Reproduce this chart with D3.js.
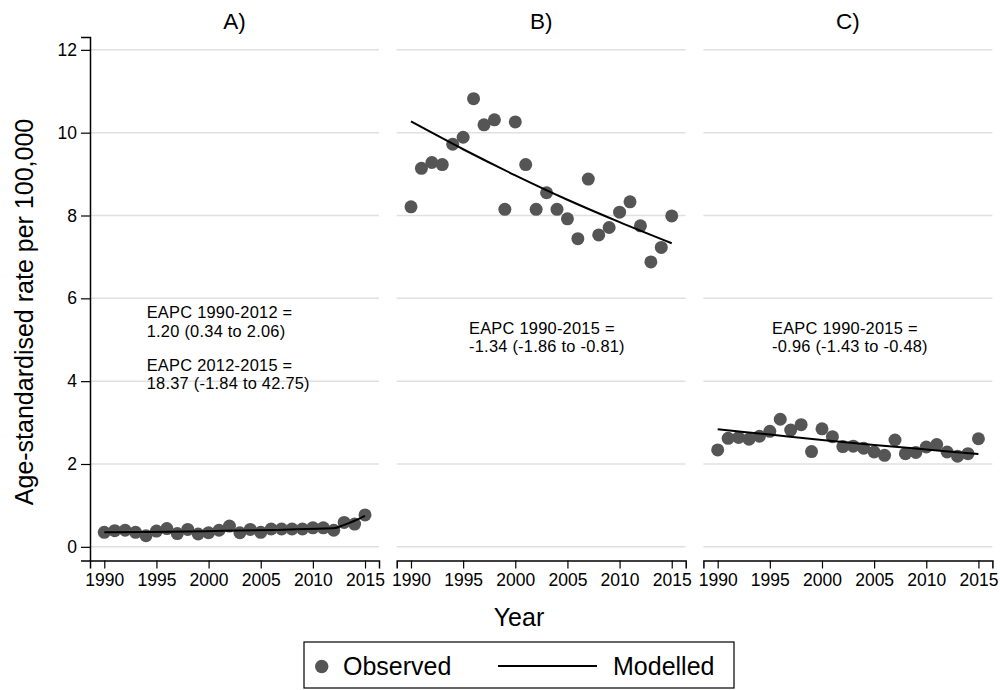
<!DOCTYPE html>
<html>
<head>
<meta charset="utf-8">
<script src="https://cdn.jsdelivr.net/npm/d3@7"></script>
<style>
  body { margin: 0; background: #fff; }
  text { font-family: "Liberation Sans", Arial, sans-serif; fill: #000; }
</style>
</head>
<body>
<div id="chart"></div>
<script>
// data
const years = [1990, 1991, 1992, 1993, 1994, 1995, 1996, 1997, 1998, 1999, 2000, 2001, 2002,
               2003, 2004, 2005, 2006, 2007, 2008, 2009, 2010, 2011, 2012, 2013, 2014, 2015];
const observedA = [0.35, 0.39, 0.40, 0.35, 0.27, 0.38, 0.44, 0.32, 0.42, 0.31, 0.34, 0.40, 0.50,
                   0.34, 0.42, 0.35, 0.43, 0.43, 0.43, 0.43, 0.46, 0.46, 0.40, 0.59, 0.55, 0.77];
const observedB = [8.21, 9.14, 9.28, 9.23, 9.72, 9.89, 10.82, 10.19, 10.31, 8.15, 10.26, 9.23, 8.15,
                   8.55, 8.15, 7.92, 7.44, 8.88, 7.53, 7.71, 8.08, 8.33, 7.75, 6.88, 7.23, 7.99];
const observedC = [2.34, 2.62, 2.64, 2.60, 2.67, 2.79, 3.08, 2.82, 2.95, 2.30, 2.85, 2.66, 2.42,
                   2.43, 2.38, 2.29, 2.21, 2.58, 2.25, 2.28, 2.41, 2.47, 2.29, 2.19, 2.25, 2.61];

const modelYearsA = [1990, 2012, 2013, 2014, 2015];
const modelledA = [0.35, 0.45, 0.53, 0.63, 0.75];
const modelYears = [1990, 1995, 2000, 2005, 2010, 2015];
const modelledB = [10.27, 9.60, 8.97, 8.38, 7.84, 7.33];
const modelledC = [2.84, 2.71, 2.58, 2.46, 2.35, 2.24];

const panelTitles = ["A)", "B)", "C)"];
const notesA = ["EAPC 1990-2012 =", "1.20 (0.34 to 2.06)", "EAPC 2012-2015 =", "18.37 (-1.84 to 42.75)"];
const notesB = ["EAPC 1990-2015 =", "-1.34 (-1.86 to -0.81)"];
const notesC = ["EAPC 1990-2015 =", "-0.96 (-1.43 to -0.48)"];

const yTicks = [0, 2, 4, 6, 8, 10, 12];
const xTicks = [1990, 1995, 2000, 2005, 2010, 2015];
//________________________________________________________________________
const width = 1000;
const height = 690;
const panelW = 289;
const panelLefts = [90, 396.7, 703.4];
const plotTop = 37;
const plotBottom = 560.5;
const dotColor = "#555555";
const gridColor = "#e0e0e0";
const noteFont = 16.4;
const noteStep = 18.4;

// baseline offset of each note line from the first one
const panels = [
    {title: panelTitles[0], obs: observedA, mYears: modelYearsA, model: modelledA, notes: notesA, noteX: 146.7, noteY: 318.3, noteDy: [0, 18.4, 52.7, 71.1]},
    {title: panelTitles[1], obs: observedB, mYears: modelYears, model: modelledB, notes: notesB, noteX: 469, noteY: 334, noteDy: [0, 18.4]},
    {title: panelTitles[2], obs: observedC, mYears: modelYears, model: modelledC, notes: notesC, noteX: 772, noteY: 334, noteDy: [0, 18.4]}
];

const y = d3.scaleLinear()
    .domain([-0.33, 12.31])
    .range([plotBottom, plotTop]);

const svg = d3.select("#chart").append("svg")
    .attr("width", width)
    .attr("height", height);

panels.forEach((p, i) => {
    const left = panelLefts[i];
    const x = d3.scaleLinear()
        .domain([1988.63, 2016.34])
        .range([left, left + panelW]);

    const g = svg.append("g");

    // grid lines
    g.selectAll(".grid")
        .data(yTicks)
        .join("line")
        .attr("x1", left)
        .attr("x2", left + panelW)
        .attr("y1", d => y(d))
        .attr("y2", d => y(d))
        .attr("stroke", gridColor)
        .attr("stroke-width", 1.5);

    // x axis
    const xAxis = g.append("g")
        .attr("transform", `translate(0,${plotBottom})`)
        .call(d3.axisBottom(x).tickValues(xTicks).tickFormat(d3.format("d")).tickSizeOuter(0).tickSize(8).tickPadding(5));
    xAxis.select(".domain").attr("stroke", "#000").attr("stroke-width", 1.5);
    xAxis.selectAll(".tick line").attr("stroke", "#000").attr("stroke-width", 1.2);
    xAxis.selectAll(".tick text")
        .attr("font-size", "17.5px")
        .attr("font-family", "Liberation Sans, Arial, sans-serif")
        .attr("fill", "#000");

    if (i === 0) {
        const yAxis = g.append("g")
            .attr("transform", `translate(${left},0)`)
            .call(d3.axisLeft(y).tickValues(yTicks).tickSizeOuter(0).tickSize(9).tickPadding(4));
        yAxis.select(".domain").attr("stroke", "#000").attr("stroke-width", 1.5);
        yAxis.selectAll(".tick line").attr("stroke", "#000").attr("stroke-width", 1.2);
        yAxis.selectAll(".tick text")
            .attr("font-size", "17.5px")
            .attr("font-family", "Liberation Sans, Arial, sans-serif")
            .attr("fill", "#000");
    }

    // panel title
    g.append("text")
        .attr("x", left + panelW / 2)
        .attr("y", 29)
        .attr("text-anchor", "middle")
        .attr("font-size", "22.5px")
        .text(p.title);

    // observed points
    g.selectAll(".dot")
        .data(years.map((yr, k) => ({year: yr, value: p.obs[k]})))
        .join("circle")
        .attr("cx", d => x(d.year))
        .attr("cy", d => y(d.value))
        .attr("r", 6.5)
        .attr("fill", dotColor);

    // modelled line
    const line = d3.line()
        .x(d => x(d.year))
        .y(d => y(d.value))
        .curve(d3.curveMonotoneX);

    g.append("path")
        .datum(p.mYears.map((yr, k) => ({year: yr, value: p.model[k]})))
        .attr("fill", "none")
        .attr("stroke", "#000")
        .attr("stroke-width", 2)
        .attr("d", line);

    // EAPC notes
    g.selectAll(".note")
        .data(p.notes)
        .join("text")
        .attr("x", p.noteX)
        .attr("y", (d, k) => p.noteY + p.noteDy[k])
        .attr("font-size", noteFont + "px")
        .attr("letter-spacing", "0.25px")
        .text(d => d);
});

// axis titles
svg.append("text")
    .attr("transform", "translate(33,312) rotate(-90)")
    .attr("text-anchor", "middle")
    .attr("font-size", "25px")
    .text("Age-standardised rate per 100,000");

svg.append("text")
    .attr("x", 519)
    .attr("y", 626)
    .attr("text-anchor", "middle")
    .attr("font-size", "25px")
    .text("Year");

// legend
const legend = svg.append("g");
legend.append("rect")
    .attr("x", 304)
    .attr("y", 642)
    .attr("width", 430)
    .attr("height", 46)
    .attr("fill", "#fff")
    .attr("stroke", "#000")
    .attr("stroke-width", 1.2);
legend.append("circle")
    .attr("cx", 321.7)
    .attr("cy", 666.5)
    .attr("r", 6.7)
    .attr("fill", dotColor);
legend.append("text")
    .attr("x", 343)
    .attr("y", 675)
    .attr("font-size", "25px")
    .text("Observed");
legend.append("line")
    .attr("x1", 498)
    .attr("x2", 597)
    .attr("y1", 666)
    .attr("y2", 666)
    .attr("stroke", "#000")
    .attr("stroke-width", 2);
legend.append("text")
    .attr("x", 613)
    .attr("y", 675)
    .attr("font-size", "25px")
    .text("Modelled");
</script>
</body>
</html>
